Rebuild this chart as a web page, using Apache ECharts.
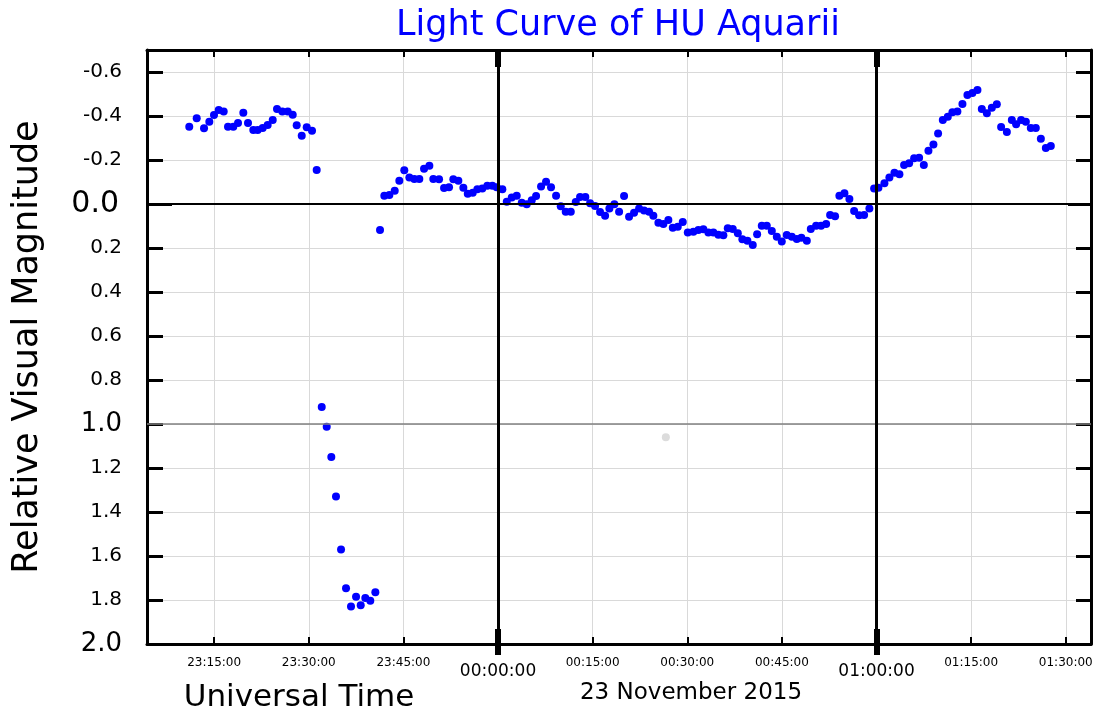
<!DOCTYPE html>
<html>
<head>
<meta charset="utf-8">
<script src="https://cdn.jsdelivr.net/npm/echarts@6/dist/echarts.min.js"></script>
<style>
html,body{margin:0;padding:0;background:#fff;}
#chart{width:1100px;height:715px;}
</style>
</head>
<body>
<div id="chart"></div>
<script>
// Time in minutes relative to 00:00:00 UT (negative = before midnight)
const times = [
 -48.95,-47.77,-46.61,-45.77,-45.03,-44.28,-43.49,-42.81,-41.97,-41.22,
 -40.38,-39.64,-38.80,-38.10,-37.31,-36.52,-35.72,-35.04,-34.20,-33.34,
 -32.55,-31.92,-31.12,-30.33,-29.49,-28.75,-27.95,-27.16,-26.43,-25.69,
 -24.89,-24.10,-23.31,-22.51,-21.77,-21.04,-20.25,-19.45,-18.71,-18.03,
 -17.23,-16.38,-15.65,-14.86,-14.06,-13.27,-12.48,-11.73,-10.89,-10.26,
 -9.35,-8.56,-7.77,-7.09,-6.29,-5.50,-4.80,-4.01,-3.28,-2.49,
 -1.70,-0.90,-0.21,0.68,1.38,2.17,2.96,3.76,4.55,5.34,
 6.03,6.82,7.61,8.40,9.20,9.94,10.73,11.53,12.32,13.00,
 13.84,14.59,15.38,16.17,16.97,17.65,18.44,19.19,19.98,20.77,
 21.56,22.36,23.15,23.94,24.62,25.42,26.21,27.00,27.70,28.49,
 29.28,30.08,30.97,31.76,32.55,33.34,34.14,34.93,35.72,36.42,
 37.21,38.01,38.73,39.53,40.38,41.07,41.81,42.60,43.40,44.19,
 44.98,45.77,46.57,47.36,48.09,48.95,49.58,50.42,51.21,52.01,
 52.64,53.43,54.11,54.91,55.70,56.45,57.24,58.03,58.87,59.62,
 60.30,61.25,62.04,62.84,63.63,64.37,65.17,65.96,66.75,67.50,
 68.23,69.02,69.76,70.51,71.30,72.03,72.82,73.62,74.41,75.20,
 76.00,76.69,77.49,78.28,79.07,79.75,80.66,81.45,82.13,82.92,
 83.67,84.46,85.25,86.05,86.84,87.63
];
const mags = [
 -0.351,-0.390,-0.344,-0.374,-0.405,-0.427,-0.421,-0.351,-0.351,-0.368,
 -0.415,-0.368,-0.336,-0.336,-0.345,-0.359,-0.382,-0.432,-0.420,-0.420,
 -0.406,-0.358,-0.310,-0.349,-0.333,-0.155,0.923,1.012,1.150,1.330,
 1.571,1.747,1.829,1.785,1.824,1.791,1.803,1.765,0.118,-0.038,
 -0.041,-0.060,-0.106,-0.153,-0.121,-0.114,-0.114,-0.160,-0.174,-0.114,
 -0.112,-0.073,-0.076,-0.112,-0.106,-0.074,-0.047,-0.051,-0.067,-0.071,
 -0.083,-0.083,-0.076,-0.067,-0.010,-0.029,-0.038,-0.006,0.001,-0.017,
 -0.036,-0.079,-0.101,-0.076,-0.038,0.010,0.035,0.035,-0.009,-0.032,
 -0.032,-0.003,0.009,0.036,0.053,0.020,0.001,0.035,-0.036,0.058,
 0.040,0.021,0.030,0.035,0.053,0.085,0.091,0.073,0.108,0.103,
 0.082,0.129,0.126,0.118,0.115,0.130,0.130,0.140,0.142,0.110,
 0.114,0.133,0.160,0.167,0.186,0.138,0.099,0.099,0.123,0.149,
 0.171,0.141,0.149,0.159,0.153,0.167,0.114,0.099,0.099,0.091,
 0.050,0.056,-0.038,-0.049,-0.023,0.032,0.051,0.050,0.020,-0.070,
 -0.074,-0.094,-0.120,-0.142,-0.135,-0.177,-0.185,-0.208,-0.210,-0.177,
 -0.242,-0.270,-0.321,-0.382,-0.397,-0.417,-0.420,-0.455,-0.495,-0.505,
 -0.518,-0.432,-0.412,-0.438,-0.453,-0.350,-0.327,-0.382,-0.362,-0.382,
 -0.374,-0.345,-0.345,-0.297,-0.255,-0.264
];
const outlierTimes = [26.6];
const outlierMags = [1.06];

const xTickValues = [-45,-30,-15,0,15,30,45,60,75,90];
const xTickLabels = ['23:15:00','23:30:00','23:45:00','00:00:00','00:15:00','00:30:00','00:45:00','01:00:00','01:15:00','01:30:00'];
const xMajorValues = [0,60];
const yTickValues = [-0.6,-0.4,-0.2,0.0,0.2,0.4,0.6,0.8,1.0,1.2,1.4,1.6,1.8,2.0];
const yTickLabels = ['-0.6','-0.4','-0.2','0.0','0.2','0.4','0.6','0.8','1.0','1.2','1.4','1.6','1.8','2.0'];
const yZeroValues = [0];

const X_MIN = -55.65, X_MAX = 94.0;
const Y_MIN = -0.7, Y_MAX = 2.0;

const FONT = 'DejaVu Sans';

function xLabel(v) {
  let i = xTickValues.findIndex(t => Math.abs(t - v) < 1e-6);
  if (i < 0) return '';
  const s = xTickLabels[i];
  return xMajorValues.indexOf(xTickValues[i]) >= 0 ? '{b|' + s + '}' : '{s|' + s + '}';
}
function yLabel(v) {
  let i = yTickValues.findIndex(t => Math.abs(t - v) < 1e-6);
  const s = i >= 0 ? yTickLabels[i] : v.toFixed(1);
  if (s === '0.0') return '{z|' + s + '}';
  if (s === '1.0' || s === '2.0') return '{o|' + s + '}';
  return '{n|' + s + '}';
}

const chart = echarts.init(document.getElementById('chart'), null, {renderer: 'canvas'});

const baseX = {type: 'value', min: X_MIN, max: X_MAX, gridIndex: 0};
const baseY = {type: 'value', min: Y_MIN, max: Y_MAX, inverse: true, gridIndex: 0};
const noLine = {show: false, onZero: false};

const option = {
  animation: false,
  backgroundColor: '#ffffff',
  textStyle: {fontFamily: FONT},
  title: [
    {text: 'Light Curve of HU Aquarii', left: 618, top: 8, textAlign: 'center', padding: 0,
     textStyle: {color: '#0000ff', fontSize: 35, fontWeight: 'normal', fontFamily: FONT}},
    {text: 'Universal Time', left: 299, top: 682, textAlign: 'center', padding: 0,
     textStyle: {color: '#000', fontSize: 31, fontWeight: 'normal', fontFamily: FONT}},
    {text: '23 November 2015', left: 691, top: 682, textAlign: 'center', padding: 0,
     textStyle: {color: '#000', fontSize: 23, fontWeight: 'normal', fontFamily: FONT}}
  ],
  grid: {left: 147, right: 9, top: 50, bottom: 71, containLabel: false},
  xAxis: [
    Object.assign({}, baseX, {
      position: 'bottom',
      axisLine: {show: true, onZero: false, lineStyle: {color: '#000', width: 3}},
      axisTick: {show: true, inside: true, length: 7, customValues: xTickValues, lineStyle: {color: '#000', width: 2}},
      axisLabel: {show: true, customValues: xTickValues, margin: 13, formatter: xLabel, color: '#000',
        rich: {s: {fontSize: 12, fontFamily: FONT, color: '#000'},
               b: {fontSize: 17, fontFamily: FONT, color: '#000', padding: [6, 0, 0, 0]}}},
      splitLine: {show: true, lineStyle: {color: '#d9d9d9', width: 1}}
    }),
    Object.assign({}, baseX, {
      position: 'top',
      axisLine: {show: true, onZero: false, lineStyle: {color: '#000', width: 3}},
      axisTick: {show: true, inside: true, length: 7, customValues: xTickValues, lineStyle: {color: '#000', width: 2}},
      axisLabel: {show: false}, splitLine: {show: false}
    }),
    Object.assign({}, baseX, {
      position: 'bottom', axisLine: noLine,
      axisTick: {show: true, inside: true, length: 15, customValues: xMajorValues, lineStyle: {color: '#000', width: 6}},
      axisLabel: {show: false}, splitLine: {show: false}
    }),
    Object.assign({}, baseX, {
      position: 'bottom', axisLine: noLine,
      axisTick: {show: true, inside: false, length: 11, customValues: xMajorValues, lineStyle: {color: '#000', width: 6}},
      axisLabel: {show: false}, splitLine: {show: false}
    }),
    Object.assign({}, baseX, {
      position: 'top', axisLine: noLine,
      axisTick: {show: true, inside: true, length: 17, customValues: xMajorValues, lineStyle: {color: '#000', width: 6}},
      axisLabel: {show: false}, splitLine: {show: false}
    })
  ],
  yAxis: [
    Object.assign({}, baseY, {
      position: 'left',
      name: 'Relative Visual Magnitude', nameLocation: 'middle', nameGap: 102, nameRotate: 90,
      nameTextStyle: {fontSize: 35, color: '#000', fontFamily: FONT},
      axisLine: {show: true, onZero: false, lineStyle: {color: '#000', width: 3}},
      axisTick: {show: true, inside: true, length: 16, customValues: yTickValues, lineStyle: {color: '#000', width: 3}},
      axisLabel: {show: true, customValues: yTickValues, margin: 25, formatter: yLabel, color: '#000',
        rich: {n: {fontSize: 20, fontFamily: FONT, color: '#000'},
               o: {fontSize: 26, fontFamily: FONT, color: '#000'},
               z: {fontSize: 30, fontFamily: FONT, color: '#000', padding: [0, 3, 0, 0]}}},
      splitLine: {show: true, lineStyle: {color: '#d9d9d9', width: 1}}
    }),
    Object.assign({}, baseY, {
      position: 'right',
      axisLine: {show: true, onZero: false, lineStyle: {color: '#000', width: 3}},
      axisTick: {show: true, inside: true, length: 15, customValues: yTickValues, lineStyle: {color: '#000', width: 3}},
      axisLabel: {show: false}, splitLine: {show: false}
    }),
    Object.assign({}, baseY, {
      position: 'left', axisLine: noLine,
      axisTick: {show: true, inside: true, length: 25, customValues: yZeroValues, lineStyle: {color: '#000', width: 3}},
      axisLabel: {show: false}, splitLine: {show: false}
    }),
    Object.assign({}, baseY, {
      position: 'right', axisLine: noLine,
      axisTick: {show: true, inside: true, length: 23, customValues: yZeroValues, lineStyle: {color: '#000', width: 3}},
      axisLabel: {show: false}, splitLine: {show: false}
    })
  ],
  series: [
    {
      type: 'line', name: 'refs', data: [], xAxisIndex: 0, yAxisIndex: 0, z: 1, silent: true,
      markLine: {
        silent: true, symbol: 'none', animation: false, label: {show: false},
        data: [
          {yAxis: 1.0, lineStyle: {color: '#808080', width: 1.5, type: 'solid'}},
          {yAxis: 0.0, lineStyle: {color: '#000', width: 2, type: 'solid'}},
          {xAxis: xMajorValues[0], lineStyle: {color: '#000', width: 3, type: 'solid'}},
          {xAxis: xMajorValues[1], lineStyle: {color: '#000', width: 3, type: 'solid'}}
        ]
      }
    },
    {
      type: 'scatter', name: 'outlier', xAxisIndex: 0, yAxisIndex: 0, z: 2,
      symbolSize: 8, itemStyle: {color: '#dcdcdc', opacity: 1},
      data: outlierTimes.map((t, i) => [t, outlierMags[i]])
    },
    {
      type: 'scatter', name: 'HU Aqr', xAxisIndex: 0, yAxisIndex: 0, z: 3,
      symbolSize: 8, itemStyle: {color: '#0000ff', opacity: 1},
      data: times.map((t, i) => [t, mags[i]])
    }
  ]
};
chart.setOption(option);
</script>
</body>
</html>
